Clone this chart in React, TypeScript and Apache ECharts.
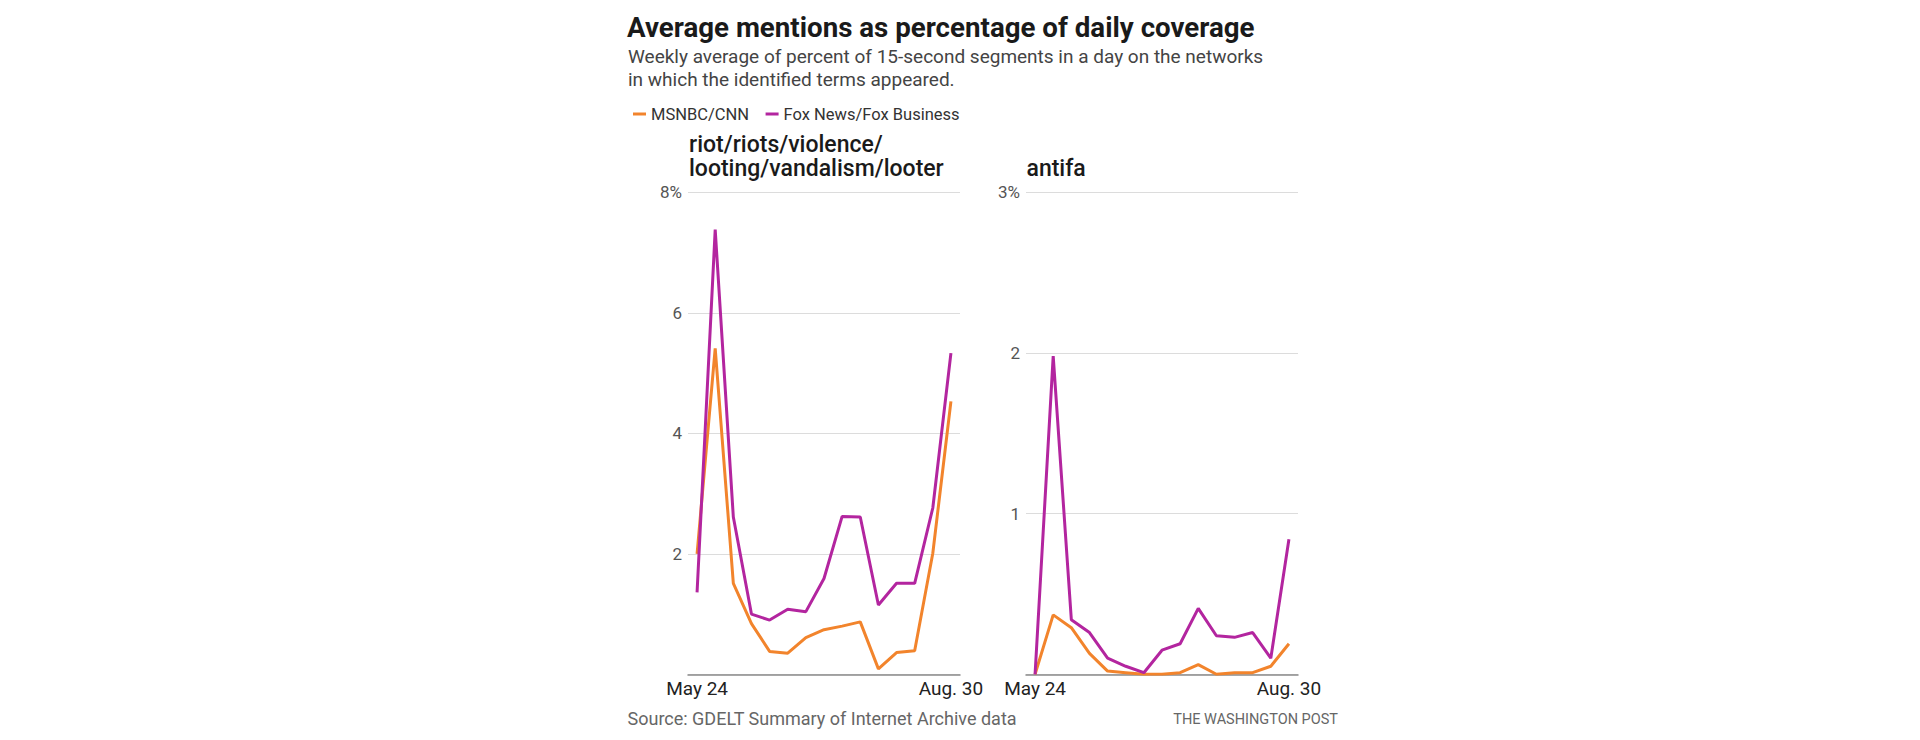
import React, { useEffect, useRef } from "react";
import * as echarts from "echarts";

const weeks = [
  "May 24", "May 31", "June 7", "June 14", "June 21", "June 28", "July 5",
  "July 12", "July 19", "July 26", "Aug. 2", "Aug. 9", "Aug. 16", "Aug. 23", "Aug. 30",
];
const seriesNames = ["MSNBC/CNN", "Fox News/Fox Business"];
const riotMsnbc = [2.0, 5.41, 1.51, 0.84, 0.38, 0.35, 0.61, 0.74, 0.8, 0.87, 0.09, 0.36, 0.39, 2.01, 4.53];
const riotFox = [1.36, 7.38, 2.61, 1.0, 0.9, 1.08, 1.04, 1.59, 2.62, 2.61, 1.15, 1.51, 1.51, 2.76, 5.33];
const antifaMsnbc = [0.0, 0.37, 0.29, 0.13, 0.02, 0.01, 0.0, 0.0, 0.01, 0.06, 0.0, 0.01, 0.01, 0.05, 0.19];
const antifaFox = [0.0, 1.98, 0.34, 0.26, 0.1, 0.05, 0.01, 0.15, 0.19, 0.41, 0.24, 0.23, 0.26, 0.1, 0.84];
const riotAxis = { max: 8, step: 2 };
const antifaAxis = { max: 3, step: 1 };

const titleText = "Average mentions as percentage of daily coverage";
const subtitleLines = [
  "Weekly average of percent of 15-second segments in a day on the networks",
  "in which the identified terms appeared.",
];
const panelTitleLeft = ["riot/riots/violence/", "looting/vandalism/looter"];
const panelTitleRight = "antifa";
const sourceText = "Source: GDELT Summary of Internet Archive data";
const creditText = "THE WASHINGTON POST";

const ORANGE = "#F2842C";
const MAGENTA = "#B3259F";
const FONT = "Roboto, 'Noto Sans', sans-serif";

export default function App() {
  const ref = useRef<HTMLDivElement>(null);

  useEffect(() => {
    document.body.style.margin = "0";
    const chart = echarts.init(ref.current!, null, { renderer: "svg" });

    const grids = [
      { left: 688, top: 192.3, width: 272, height: 482 },
      { left: 1026, top: 192.3, width: 272, height: 482 },
    ];
    const last = weeks.length - 1;
    const xAxis = grids.map((_, i) => ({
      type: "category",
      gridIndex: i,
      data: weeks,
      boundaryGap: true,
      axisLine: { show: true, lineStyle: { color: "#8a8a8a", width: 1.5 } },
      axisTick: { show: false },
      axisLabel: {
        interval: (idx: number) => idx === 0 || idx === last,
        color: "#222",
        fontSize: 19,
        fontFamily: FONT,
        margin: 5,
      },
    }));
    const mkY = (i: number, ax: { max: number; step: number }) => ({
      type: "value",
      gridIndex: i,
      min: 0,
      max: ax.max,
      interval: ax.step,
      axisLine: { show: false },
      axisTick: { show: false },
      splitLine: { lineStyle: { color: "#dcdcdc", width: 1 } },
      axisLabel: {
        color: "#555",
        fontSize: 17,
        fontFamily: FONT,
        margin: 6,
        formatter: (v: number) => (v === 0 ? "" : v === ax.max ? v + "%" : String(v)),
      },
    });
    const yAxis = [mkY(0, riotAxis), mkY(1, antifaAxis)];
    const mkS = (name: string, data: number[], color: string, i: number) => ({
      type: "line",
      name,
      xAxisIndex: i,
      yAxisIndex: i,
      data,
      symbol: "none",
      color,
      lineStyle: { color, width: 3 },
      z: 3,
    });

    const txt = (x: number, y: number, text: string, size: number, weight: any, fill: string, align = "left") => ({
      type: "text",
      x,
      y,
      style: {
        text,
        fontSize: size,
        fontWeight: weight,
        fontFamily: FONT,
        fill,
        textAlign: align,
        textVerticalAlign: "middle",
      },
    });

    chart.setOption({
      animation: false,
      backgroundColor: "#ffffff",
      grid: grids,
      xAxis,
      yAxis,
      legend: {
        data: seriesNames,
        left: 628,
        top: 100.5,
        icon: "rect",
        itemWidth: 13,
        itemHeight: 3,
        itemGap: 16.5,
        selectedMode: false,
        textStyle: { fontSize: 16.5, color: "#333", fontFamily: FONT },
      },
      series: [
        mkS(seriesNames[0], riotMsnbc, ORANGE, 0),
        mkS(seriesNames[1], riotFox, MAGENTA, 0),
        mkS(seriesNames[0], antifaMsnbc, ORANGE, 1),
        mkS(seriesNames[1], antifaFox, MAGENTA, 1),
      ],
      graphic: [
        txt(627, 27.5, titleText, 27.7, "bold", "#1a1a1a"),
        txt(628, 56.5, subtitleLines[0], 19, "normal", "#444"),
        txt(628, 79.2, subtitleLines[1], 19, "normal", "#444"),
        txt(689, 144.9, panelTitleLeft[0], 23, 500, "#1a1a1a"),
        txt(689, 168.9, panelTitleLeft[1], 23, 500, "#1a1a1a"),
        txt(1026.5, 168.9, panelTitleRight, 23, 500, "#1a1a1a"),
        txt(627.5, 718.3, sourceText, 18, "normal", "#666"),
        txt(1338, 719.3, creditText, 14.5, "normal", "#666", "right"),
      ],
    });
    return () => chart.dispose();
  }, []);

  return (
    <div
      ref={ref}
      style={{ position: "absolute", left: 0, top: 0, width: 1920, height: 740, background: "#fff" }}
    />
  );
}
